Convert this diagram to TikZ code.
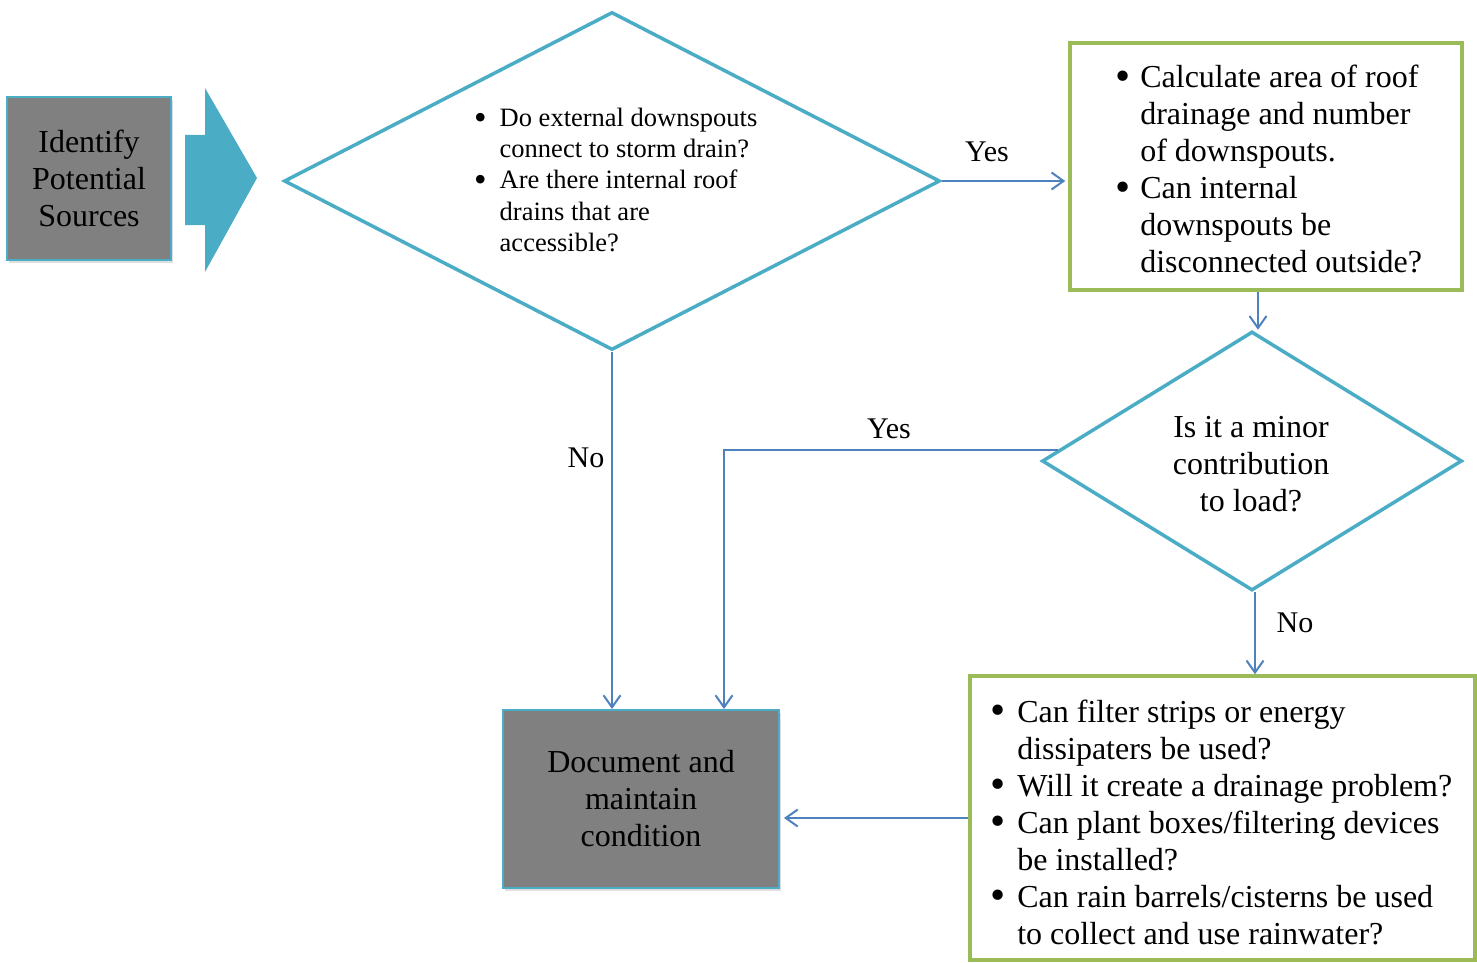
\documentclass[tikz,border=0pt]{standalone}
\usepackage{fontspec}
\setmainfont{Liberation Serif}
\usetikzlibrary{shapes.geometric,arrows.meta,calc,shadows}
\definecolor{accentteal}{HTML}{4BACC6}
\definecolor{linkblue}{HTML}{4F81BD}
\definecolor{leafgreen}{HTML}{9BBB59}
\definecolor{boxgray}{HTML}{808080}
\newcommand\bigtext{\fontsize{32}{37}\selectfont}
\newcommand\smalltext{\fontsize{26.5}{31}\selectfont}
\newcommand\blt{\smash{\raisebox{-0.08em}{\scalebox{1.35}{\textbullet}}}}
\begin{document}
\begin{tikzpicture}[x=1pt,y=-1pt,
  graybox/.style={draw=accentteal,line width=2pt,fill=boxgray,inner sep=0pt,
    align=center,font=\bigtext,
    drop shadow={opacity=0.25,shadow xshift=2pt,shadow yshift=-3pt}},
  greenbox/.style={draw=leafgreen,line width=3.5pt,inner sep=0pt},
  decision/.style={diamond,draw=accentteal,line width=3.5pt,inner sep=0pt},
  listtext/.style={inner sep=0pt,anchor=base west,align=left},
  link/.style={draw=linkblue,line width=2pt,
    -{Straight Barb[length=12pt,width=17pt,line width=2pt]}},
  lbl/.style={inner sep=0pt,font=\fontsize{30}{34}\selectfont}]
\useasboundingbox (0,0) rectangle (1477,963);

% start box and chevron arrow
\node[graybox,minimum width=164pt,minimum height=163pt] (start) at (89,178.5)
  {Identify\\Potential\\Sources};
\fill[accentteal] (185,135) -- (205,135) -- (205,88) -- (257,178)
  -- (205,272) -- (205,225) -- (185,225) -- cycle;

% first decision
\node[decision,minimum width=656pt,minimum height=338pt] (d1) at (612,181) {};
\node[listtext,font=\smalltext] (d1txt) at (474,127)
  {\begin{tabular}[t]{@{}l@{\hspace{13pt}}l@{}}
   \blt & Do external downspouts\\
        & connect to storm drain?\\
   \blt & Are there internal roof\\
        & drains that are\\
        & accessible?
   \end{tabular}};

% roof drainage box
\node[greenbox,minimum width=392pt,minimum height=247pt] (roof) at (1266,166.5) {};
\node[listtext,font=\bigtext] (rooftxt) at (1115,88)
  {\begin{tabular}[t]{@{}l@{\hspace{10pt}}l@{}}
   \blt & Calculate area of roof\\
        & drainage and number\\
        & of downspouts.\\
   \blt & Can internal\\
        & downspouts be\\
        & disconnected outside?
   \end{tabular}};

% second decision
\node[decision,minimum width=420pt,minimum height=259pt] (d2) at (1252,461) {};
\node[inner sep=0pt,align=center,font=\bigtext] (d2txt) at (1251,464)
  {Is it a minor\\contribution\\to load?};

% document box
\node[graybox,minimum width=276pt,minimum height=178pt] (doc) at (641,799)
  {Document and\\maintain\\condition};

% mitigation options box
\node[greenbox,minimum width=505pt,minimum height=284pt] (opts) at (1222.5,818) {};
\node[listtext,font=\bigtext] (optstxt) at (990,722)
  {\begin{tabular}[t]{@{}l@{\hspace{12pt}}l@{}}
   \blt & Can filter strips or energy\\
        & dissipaters be used?\\
   \blt & Will it create a drainage problem?\\
   \blt & Can plant boxes/filtering devices\\
        & be installed?\\
   \blt & Can rain barrels/cisterns be used\\
        & to collect and use rainwater?
   \end{tabular}};

% connectors
\draw[link] (d1.east) -- ([xshift=-3pt]d1.east -| roof.west);
\draw[link] ([xshift=6pt]d2.north |- roof.south) -- ([xshift=6pt]d2.north);
\draw[link] (d1.south) -- (d1.south |- doc.north);
\draw[link] ($(d2.west)!0.085!(d2.north)$) -| ([xshift=83pt]doc.north);
\draw[link] ([xshift=3pt]d2.south) -- ([xshift=3pt]d2.south |- opts.north);
\draw[link] (opts.west) -- ([xshift=4pt]opts.west -| doc.east);

% connector labels
\node[lbl] (yes1) at (987,152) {Yes};
\node[lbl] (yes2) at (889,429) {Yes};
\node[lbl] (no1) at (586,458) {No};
\node[lbl] (no2) at (1295,623) {No};
\end{tikzpicture}
\end{document}
